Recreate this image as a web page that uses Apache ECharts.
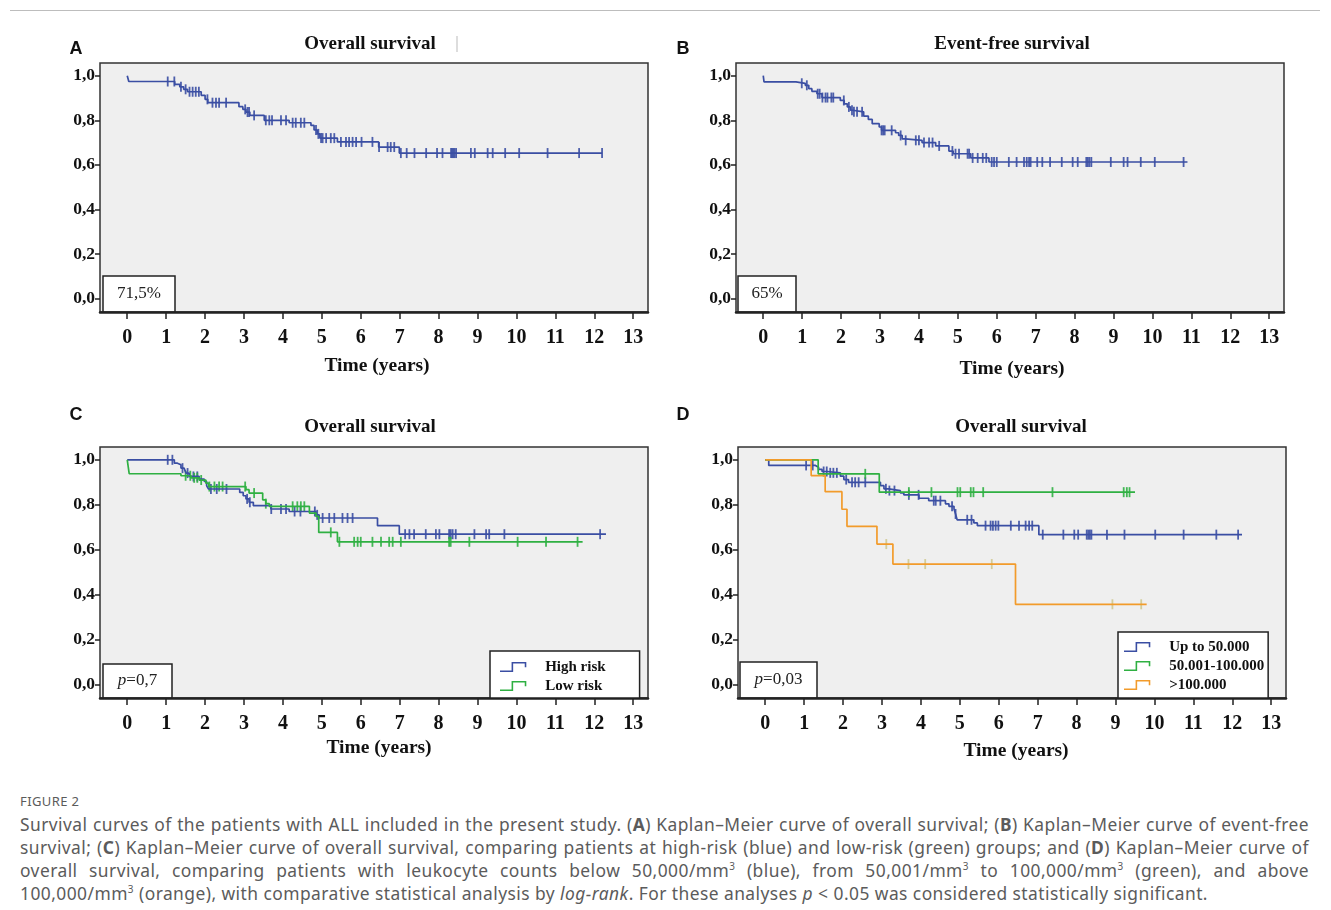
<!DOCTYPE html>
<html>
<head>
<meta charset="utf-8">
<script src="https://cdn.jsdelivr.net/npm/echarts@6/dist/echarts.min.js"></script>
<style>
  html, body { margin: 0; padding: 0; background: #fff; }
  #chart { position: absolute; left: 0; top: 0; width: 1331px; height: 780px; }
  #frame { position: absolute; left: 10px; top: 10px; width: 1310px; height: 0; border-top: 1px solid #bdbdbd; }
  #caption { position: absolute; left: 20px; top: 789px; width: 1289px; font-family: "Noto Sans", sans-serif; color: #5b5b5b; }
  #caption .fig { font-size: 13px; letter-spacing: 0.4px; height: 24px; line-height: 24px; }
  #caption .ln { font-size: 17.4px; letter-spacing: 0.45px; line-height: 23px; height: 23px; white-space: nowrap; text-align: justify; text-align-last: justify; }
  #caption .ln.last { text-align-last: left; }
  #caption sup { font-size: 10px; line-height: 0; }
</style>
</head>
<body>
<div id="frame"></div>
<div id="chart"></div>
<div id="caption">
  <div class="fig">FIGURE 2</div>
  <div class="ln">Survival curves of the patients with ALL included in the present study. (<b>A</b>) Kaplan–Meier curve of overall survival; (<b>B</b>) Kaplan–Meier curve of event-free</div>
  <div class="ln">survival; (<b>C</b>) Kaplan–Meier curve of overall survival, comparing patients at high-risk (blue) and low-risk (green) groups; and (<b>D</b>) Kaplan–Meier curve of</div>
  <div class="ln">overall survival, comparing patients with leukocyte counts below 50,000/mm<sup>3</sup> (blue), from 50,001/mm<sup>3</sup> to 100,000/mm<sup>3</sup> (green), and above</div>
  <div class="ln last">100,000/mm<sup>3</sup> (orange), with comparative statistical analysis by <i>log-rank</i>. For these analyses <i>p</i> &lt; 0.05 was considered statistically significant.</div>
</div>
<script>
// tick labels
var xTicks = [0, 1, 2, 3, 4, 5, 6, 7, 8, 9, 10, 11, 12, 13];
var yTicks = [0, 0.2, 0.4, 0.6, 0.8, 1.0];

// A - overall survival (event times, survival after event, censored times)
var aTimes = [0.04, 1.22, 1.35, 1.45, 1.55, 1.90, 2.00, 2.07, 2.87, 2.97, 3.05, 3.15, 3.52, 4.16, 4.72, 4.80, 4.88, 4.95, 5.40, 6.46, 6.99];
var aSurv = [0.974, 0.961, 0.950, 0.939, 0.928, 0.912, 0.894, 0.879, 0.861, 0.849, 0.837, 0.822, 0.800, 0.789, 0.777, 0.757, 0.739, 0.720, 0.703, 0.680, 0.653];
var aEnd = 12.2;
var aCens = [1.04, 1.21, 1.38, 1.5, 1.6, 1.68, 1.76, 1.84, 2.06, 2.19, 2.28, 2.36, 2.54, 3.03, 3.09, 3.13, 3.26, 3.56, 3.65, 3.72, 3.95, 4.08, 4.25, 4.33, 4.46, 4.55, 4.85, 4.91, 4.98, 5.02, 5.11, 5.23, 5.32, 5.49, 5.62, 5.70, 5.79, 5.88, 6.02, 6.30, 6.47, 6.69, 6.77, 6.86, 7.03, 7.18, 7.38, 7.68, 7.96, 8.10, 8.32, 8.35, 8.38, 8.41, 8.45, 8.83, 8.93, 9.26, 9.39, 9.71, 10.07, 10.80, 11.61, 12.20];

// B - event-free survival
var bTimes = [0.02, 0.84, 1.08, 1.17, 1.25, 1.38, 1.51, 1.98, 2.08, 2.16, 2.24, 2.30, 2.58, 2.70, 2.80, 2.98, 3.04, 3.40, 3.48, 3.57, 3.65, 4.08, 4.43, 4.77, 4.88, 5.33, 5.80];
var bSurv = [0.972, 0.966, 0.957, 0.942, 0.930, 0.919, 0.902, 0.889, 0.874, 0.860, 0.845, 0.838, 0.819, 0.804, 0.785, 0.770, 0.755, 0.744, 0.732, 0.717, 0.710, 0.700, 0.685, 0.662, 0.650, 0.631, 0.613];
var bEnd = 10.9;
var bCens = [0.99, 1.12, 1.40, 1.45, 1.52, 1.60, 1.65, 1.75, 1.80, 2.07, 2.20, 2.28, 2.33, 2.41, 2.54, 3.04, 3.08, 3.12, 3.30, 3.53, 3.66, 3.92, 4.00, 4.13, 4.26, 4.35, 4.52, 4.86, 4.94, 5.03, 5.25, 5.29, 5.38, 5.51, 5.64, 5.73, 5.87, 5.93, 6.00, 6.31, 6.51, 6.70, 6.77, 6.83, 6.87, 7.04, 7.17, 7.37, 7.67, 7.95, 8.08, 8.30, 8.34, 8.38, 8.43, 8.93, 9.26, 9.36, 9.70, 10.06, 10.80];

// C - high risk / low risk
var cHighTimes = [1.21, 1.29, 1.38, 1.46, 1.51, 1.59, 1.85, 1.98, 2.04, 2.09, 2.89, 2.98, 3.05, 3.13, 3.24, 3.69, 4.16, 4.85, 4.93, 6.43, 6.99];
var cHighSurv = [0.985, 0.978, 0.963, 0.956, 0.941, 0.926, 0.914, 0.904, 0.884, 0.870, 0.855, 0.840, 0.826, 0.811, 0.796, 0.781, 0.770, 0.755, 0.741, 0.707, 0.669];
var cHighEnd = 12.3;
var cHighCens = [1.04, 1.16, 1.42, 1.55, 1.70, 1.80, 2.15, 2.30, 2.55, 3.08, 3.15, 3.70, 3.95, 4.08, 4.30, 4.45, 4.82, 4.88, 5.02, 5.19, 5.32, 5.53, 5.66, 5.79, 7.14, 7.25, 7.37, 7.67, 7.93, 8.02, 8.27, 8.31, 8.36, 8.44, 8.92, 9.22, 9.30, 9.69, 12.15];
var cLowTimes = [0.05, 1.38, 1.64, 1.85, 2.02, 2.09, 3.05, 3.13, 3.48, 3.56, 3.65, 4.68, 4.85, 4.92, 5.40];
var cLowSurv = [0.938, 0.929, 0.920, 0.910, 0.896, 0.881, 0.867, 0.852, 0.822, 0.805, 0.793, 0.763, 0.748, 0.677, 0.635];
var cLowEnd = 11.7;
var cLowCens = [1.5, 1.62, 1.72, 1.80, 1.90, 2.11, 2.24, 2.36, 2.45, 3.03, 3.26, 3.56, 4.25, 4.37, 4.46, 4.55, 5.23, 5.45, 5.83, 5.92, 6.00, 6.30, 6.52, 6.73, 6.82, 7.03, 8.27, 8.31, 8.79, 10.03, 10.76, 11.57];

// D - leukocyte counts
var dLowTimes = [0.09, 1.29, 1.37, 1.46, 1.59, 1.93, 2.02, 2.14, 2.96, 3.05, 3.17, 3.47, 3.56, 3.95, 4.20, 4.63, 4.72, 4.85, 4.89, 4.93, 5.36, 5.45, 7.03];
var dLowSurv = [0.975, 0.967, 0.957, 0.948, 0.942, 0.927, 0.912, 0.900, 0.885, 0.871, 0.863, 0.853, 0.844, 0.829, 0.818, 0.804, 0.793, 0.781, 0.759, 0.733, 0.719, 0.707, 0.667];
var dLowEnd = 12.25;
var dLowCens = [1.05, 1.22, 1.50, 1.58, 1.67, 1.75, 1.84, 2.08, 2.23, 2.31, 2.40, 2.57, 3.10, 3.19, 3.32, 3.69, 3.94, 4.33, 4.38, 4.50, 4.80, 4.89, 5.19, 5.30, 5.66, 5.79, 5.85, 5.92, 5.99, 6.31, 6.52, 6.69, 6.78, 6.86, 7.13, 7.66, 7.94, 8.04, 8.26, 8.30, 8.34, 8.38, 8.78, 9.23, 10.02, 10.75, 11.59, 12.15];
var dMidTimes = [1.36, 2.93];
var dMidSurv = [0.9375, 0.856];
var dMidEnd = 9.5;
var dMidCens = [2.57, 3.69, 4.27, 4.94, 5.01, 5.28, 5.35, 5.60, 7.38, 9.21, 9.29, 9.36];
var dHighTimes = [1.18, 1.54, 1.97, 2.10, 2.87, 3.28, 6.43];
var dHighSurv = [0.93, 0.858, 0.78, 0.704, 0.625, 0.536, 0.357];
var dHighEnd = 9.8;
var dHighCens = [3.11, 3.68, 4.11, 5.82, 8.92, 9.66];

var BLUE = '#3a4ea3';
var GREEN = '#2fb042';
var ORANGE = '#f29b2b';
var SERIF = '"Liberation Serif", "DejaVu Serif", serif';

function survAt(times, surv, t) {
  var s = 1;
  for (var i = 0; i < times.length; i++) {
    if (times[i] <= t) s = surv[i];
  }
  return s;
}

function km(name, idx, times, surv, end, cens, color, censColor) {
  var pts = [[0, 1]];
  times.forEach(function (t, i) { pts.push([t, surv[i]]); });
  pts.push([end, surv[surv.length - 1]]);
  return [{
    name: name, type: 'line', step: 'end', xAxisIndex: idx, yAxisIndex: idx,
    data: pts, showSymbol: false, color: color,
    lineStyle: { width: 1.7, color: color }, animation: false
  }, {
    name: name, type: 'scatter', xAxisIndex: idx, yAxisIndex: idx,
    data: cens.map(function (c) { return [c, survAt(times, surv, c)]; }),
    symbol: 'rect', symbolSize: [1.8, 10], color: color,
    itemStyle: { color: censColor || color, opacity: 0.9 }, silent: true, animation: false
  }];
}

var grids = [
  { left: 100, top: 63, width: 548, height: 249 },
  { left: 736, top: 63, width: 548, height: 249 },
  { left: 100, top: 447, width: 548, height: 251 },
  { left: 738, top: 447, width: 548, height: 251 }
];

var xAxes = grids.map(function (g, i) {
  return {
    type: 'value', gridIndex: i, min: -0.7, max: 13.38,
    axisLine: { show: true, onZero: false, lineStyle: { color: '#222', width: 2.5 } },
    axisTick: { show: true, customValues: xTicks, length: 7, lineStyle: { color: '#222', width: 1.5 } },
    axisLabel: { customValues: xTicks, margin: 16, color: '#111', fontFamily: SERIF, fontWeight: 'bold', fontSize: 20 },
    splitLine: { show: false }
  };
});

var yAxes = grids.map(function (g, i) {
  return {
    type: 'value', gridIndex: i, min: -0.06, max: 1.057,
    axisLine: { show: false, onZero: false },
    axisTick: { show: true, customValues: yTicks, length: 5, lineStyle: { color: '#222', width: 1.5 } },
    axisLabel: {
      customValues: yTicks, margin: 5, color: '#111', fontFamily: SERIF, fontWeight: 'bold', fontSize: 17.5,
      formatter: function (v) { return v.toFixed(1).replace('.', ','); }
    },
    splitLine: { show: false }
  };
});

var series = [].concat(
  km('Overall survival', 0, aTimes, aSurv, aEnd, aCens, BLUE),
  km('Event-free survival', 1, bTimes, bSurv, bEnd, bCens, BLUE),
  km('High risk', 2, cHighTimes, cHighSurv, cHighEnd, cHighCens, BLUE),
  km('Low risk', 2, cLowTimes, cLowSurv, cLowEnd, cLowCens, GREEN),
  km('Up to 50.000', 3, dLowTimes, dLowSurv, dLowEnd, dLowCens, BLUE),
  km('50.001-100.000', 3, dMidTimes, dMidSurv, dMidEnd, dMidCens, GREEN),
  km('>100.000', 3, dHighTimes, dHighSurv, dHighEnd, dHighCens, ORANGE, '#cfc88f')
);

var stepIcon = 'path://M0,8H11V0H25V5H23.5V1.5H12.5V9.5H0Z';
var legendText = { fontFamily: SERIF, fontWeight: 'bold', fontSize: 15, color: '#111', padding: [0, 0, 0, 10], lineHeight: 16 };

function txt(x, y, text, extra) {
  var style = Object.assign({ x: x, y: y, text: text, fill: '#111', align: 'center', verticalAlign: 'middle',
    font: 'bold 19px ' + SERIF }, extra || {});
  return { type: 'text', z: 20, style: style };
}

function box(x, y, w, h, text) {
  return {
    type: 'group', z: 20, children: [
      { type: 'rect', shape: { x: x, y: y, width: w, height: h }, style: { fill: '#fff', stroke: '#222', lineWidth: 1.5 } },
      { type: 'text', style: { x: x + w / 2, y: y + h / 2, text: text, align: 'center', verticalAlign: 'middle',
        font: '17px ' + SERIF, fill: '#222', rich: { i: { fontStyle: 'italic', fontSize: 17, fontFamily: SERIF } } } }
    ]
  };
}

var axisName = { font: 'bold 19.5px ' + SERIF };

var chart = echarts.init(document.getElementById('chart'), null, { renderer: 'canvas' });
chart.setOption({
  animation: false,
  grid: grids.map(function (g) {
    return Object.assign({ show: true, backgroundColor: '#efefef', borderColor: '#333', borderWidth: 1.5 }, g);
  }),
  xAxis: xAxes,
  yAxis: yAxes,
  legend: [{
    data: ['High risk', 'Low risk'], left: 490, top: 651, orient: 'vertical',
    icon: stepIcon, itemWidth: 34, itemHeight: 10, itemGap: 3,
    backgroundColor: '#fff', borderColor: '#222', borderWidth: 1.5, borderRadius: 0,
    padding: [8, 34, 4, 10], textStyle: legendText, selectedMode: false
  }, {
    data: ['Up to 50.000', '50.001-100.000', '>100.000'], left: 1118, top: 632, orient: 'vertical',
    icon: stepIcon, itemWidth: 34, itemHeight: 10, itemGap: 3,
    backgroundColor: '#fff', borderColor: '#222', borderWidth: 1.5, borderRadius: 0,
    padding: [7, 4, 5, 6], textStyle: legendText, selectedMode: false
  }],
  series: series,
  graphic: [
    txt(76, 49, 'A', { font: 'bold 18px "Liberation Sans", Arial, sans-serif' }),
    txt(683, 49, 'B', { font: 'bold 18px "Liberation Sans", Arial, sans-serif' }),
    txt(76, 415, 'C', { font: 'bold 18px "Liberation Sans", Arial, sans-serif' }),
    txt(683, 415, 'D', { font: 'bold 18px "Liberation Sans", Arial, sans-serif' }),
    txt(370, 44, 'Overall survival'),
    { type: 'line', z: 20, shape: { x1: 457, y1: 36, x2: 457, y2: 52 }, style: { stroke: '#bbb', lineWidth: 1 } },
    txt(1012, 44, 'Event-free survival'),
    txt(370, 427, 'Overall survival'),
    txt(1021, 427, 'Overall survival'),
    txt(377, 366, 'Time (years)', axisName),
    txt(1012, 369, 'Time (years)', axisName),
    txt(379, 748, 'Time (years)', axisName),
    txt(1016, 751, 'Time (years)', axisName),
    box(103, 276, 72, 36, '71,5%'),
    box(738, 276, 58, 36, '65%'),
    box(103, 664, 69, 34, '{i|p}=0,7'),
    box(740, 662, 77, 36, '{i|p}=0,03')
  ]
});
</script>
</body>
</html>
